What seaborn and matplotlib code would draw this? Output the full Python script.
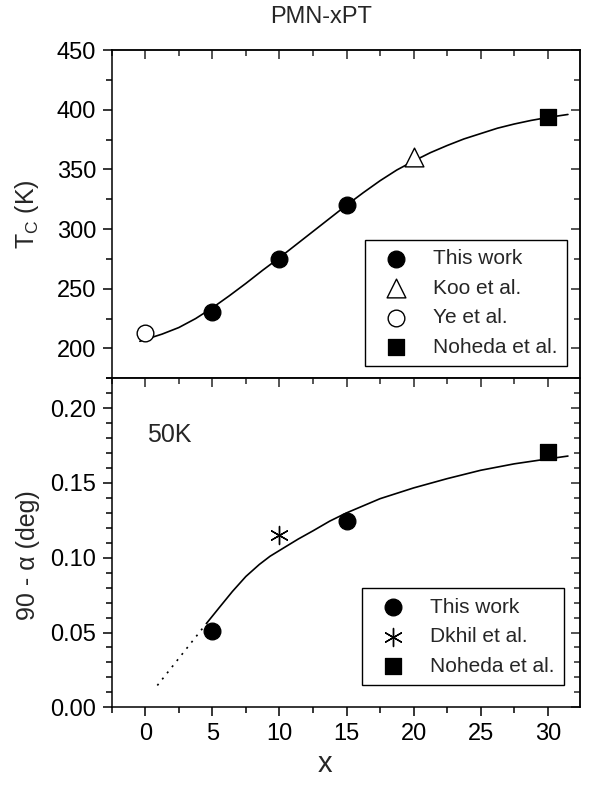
import numpy as np
import pandas as pd
import matplotlib
matplotlib.use("Agg")
import matplotlib.pyplot as plt
from matplotlib.ticker import MultipleLocator
import seaborn as sns

sns.set_style("ticks")
plt.rcParams["font.family"] = ["Liberation Sans", "DejaVu Sans"]
plt.rcParams["mathtext.fontset"] = "custom"
plt.rcParams["mathtext.rm"] = "Liberation Sans"
plt.rcParams["mathtext.it"] = "Liberation Sans"

# ---- top panel: Tc vs x
tc_this_x = [5, 10, 15]
tc_this_y = [230.5, 275, 320]
tc_koo_x = [20]
tc_koo_y = [360]
tc_ye_x = [0]
tc_ye_y = [213]
tc_noh_x = [30]
tc_noh_y = [394]
tc_fit_x = [-0.4, 0, 1.25, 2.5, 3.75, 5, 6.25, 7.5, 8.75, 10, 11.25, 12.5, 13.75,
            15, 16.25, 17.5, 18.75, 20, 21.25, 22.5, 23.75, 25, 26.25, 27.5, 28.75, 30, 31.5]
tc_fit_y = [206, 207.5, 212, 217.5, 225, 234, 244, 254.5, 265.5, 276, 287, 298, 309,
            320, 330.5, 340.5, 349.5, 357, 364, 370, 375.5, 380, 384.5, 388, 391, 393.5, 396]

# ---- bottom panel: 90 - alpha at 50K
al_this_x = [5, 15]
al_this_y = [0.051, 0.1243]
al_dkhil_x = [10]
al_dkhil_y = [0.1153]
al_noh_x = [30]
al_noh_y = [0.1705]
al_fit_x = [4.6, 5.5, 6.5, 7.5, 8.5, 9.3, 10.3, 11.4, 12.5, 13.75, 15, 17.5, 20,
            22.5, 25, 27.5, 30, 31.5]
al_fit_y = [0.0565, 0.0665, 0.0775, 0.0875, 0.0955, 0.101, 0.1065, 0.1125, 0.118, 0.1245,
            0.130, 0.1395, 0.1467, 0.1529, 0.1585, 0.1628, 0.1661, 0.168]
al_dot_x = [0.9, 4.6]
al_dot_y = [0.0146, 0.0565]

W, H = 589, 785
fig = plt.figure(figsize=(W / 100, H / 100), dpi=100)
L, R = 111.7 / W, 580 / W
ax1 = fig.add_axes([L, 1 - 378.3 / H, R - L, (378.3 - 50) / H])
ax2 = fig.add_axes([L, 1 - 707.3 / H, R - L, (707.3 - 378.3) / H], sharex=ax1)

lw_ax = 1.1
tick_fs = 17

def style_axes(ax, ymaj, ymin, bottom_labels):
    for s in ax.spines.values():
        s.set_linewidth(lw_ax)
        s.set_color("black")
    ax.xaxis.set_major_locator(MultipleLocator(5))
    ax.xaxis.set_minor_locator(MultipleLocator(2.5))
    ax.yaxis.set_major_locator(MultipleLocator(ymaj))
    ax.yaxis.set_minor_locator(MultipleLocator(ymin))
    ax.tick_params(which="both", direction="out", width=lw_ax, colors="black",
                   labelsize=tick_fs, top=False, right=False)
    ax.tick_params(which="major", length=6.8, pad=4.5)
    ax.tick_params(which="minor", length=4.3)
    if not bottom_labels:
        ax.tick_params(axis="x", which="both", bottom=False, labelbottom=False)
    # mirrored inward ticks on top and right
    sx = ax.secondary_xaxis("top")
    sx.xaxis.set_major_locator(MultipleLocator(5))
    sx.xaxis.set_minor_locator(MultipleLocator(2.5))
    sx.tick_params(which="both", direction="in", width=lw_ax, labeltop=False)
    sx.tick_params(which="major", length=6.5)
    sx.tick_params(which="minor", length=4.3)
    sx.spines["top"].set_linewidth(lw_ax)
    sy = ax.secondary_yaxis("right")
    sy.yaxis.set_major_locator(MultipleLocator(ymaj))
    sy.yaxis.set_minor_locator(MultipleLocator(ymin))
    sy.tick_params(which="both", direction="in", width=lw_ax, labelright=False)
    sy.tick_params(which="major", length=6.5)
    sy.tick_params(which="minor", length=4.3)
    sy.spines["right"].set_linewidth(lw_ax)

legend_kw = dict(loc="lower right", borderaxespad=0, fontsize=15, frameon=True,
                 fancybox=False, framealpha=1, edgecolor="black", labelspacing=0.5,
                 handletextpad=0.8, borderpad=0.45)

# top panel
sns.lineplot(x=tc_fit_x, y=tc_fit_y, ax=ax1, color="black", lw=1.2, sort=False)
sns.scatterplot(x=tc_this_x, y=tc_this_y, ax=ax1, marker="o", s=12**2, color="black",
                edgecolor="black", label="This work", zorder=3)
sns.scatterplot(x=tc_koo_x, y=tc_koo_y, ax=ax1, marker="^", s=13.5**2, facecolor="white",
                edgecolor="black", linewidth=1.0, label="Koo et al.", zorder=3)
sns.scatterplot(x=tc_ye_x, y=tc_ye_y, ax=ax1, marker="o", s=12**2, facecolor="white",
                edgecolor="black", linewidth=1.0, label="Ye et al.", zorder=3)
sns.scatterplot(x=tc_noh_x, y=tc_noh_y, ax=ax1, marker="s", s=11.5**2, color="black",
                edgecolor="black", label="Noheda et al.", zorder=3)
ax1.set_xlim(-2.5, 32.4)
ax1.set_ylim(175, 450)
style_axes(ax1, 50, 25, bottom_labels=False)
ax1.set_xlabel("")
ax1.set_ylabel("T$_\\mathrm{C}$ (K)", fontsize=18)
ax1.yaxis.set_label_coords(-0.15, 0.5)
leg1 = ax1.legend(bbox_to_anchor=(0.972, 0.0375), **legend_kw)
leg1.get_frame().set_linewidth(1.0)

# bottom panel
sns.lineplot(x=al_fit_x, y=al_fit_y, ax=ax2, color="black", lw=1.2, sort=False)
sns.lineplot(x=al_dot_x, y=al_dot_y, ax=ax2, color="black", lw=1.2, sort=False,
             linestyle=(0, (1.2, 3.5)))
sns.scatterplot(x=al_this_x, y=al_this_y, ax=ax2, marker="o", s=12**2, color="black",
                edgecolor="black", label="This work", zorder=3)
sns.scatterplot(x=al_dkhil_x, y=al_dkhil_y, ax=ax2, marker=(6, 2, 0), s=13**2,
                color="black", edgecolor="black", linewidth=1.0, label="Dkhil et al.",
                zorder=3)
sns.scatterplot(x=al_noh_x, y=al_noh_y, ax=ax2, marker="s", s=11.5**2, color="black",
                edgecolor="black", label="Noheda et al.", zorder=3)
ax2.set_xlim(-2.5, 32.4)
ax2.set_ylim(0, 0.22)
style_axes(ax2, 0.05, 0.01, bottom_labels=True)
ax2.yaxis.set_major_formatter(matplotlib.ticker.FormatStrFormatter("%.2f"))
ax2.set_ylabel("90 - \u03b1 (deg)", fontsize=18)
ax2.yaxis.set_label_coords(-0.153, 0.463)
ax2.set_xlabel("x", fontsize=21)
ax2.xaxis.set_label_coords(0.455, -0.13)
leg2 = ax2.legend(bbox_to_anchor=(0.966, 0.068), **legend_kw)
leg2.get_frame().set_linewidth(1.0)
ax2.text((146.6 - 111.7) / 468.3, 0.807, "50K", transform=ax2.transAxes,
         fontsize=18, va="baseline", ha="left")

fig.text(320.8 / W, 1 - 23 / H, "PMN-xPT", ha="center", va="baseline", fontsize=17)

fig.savefig("out.png", dpi=100)
